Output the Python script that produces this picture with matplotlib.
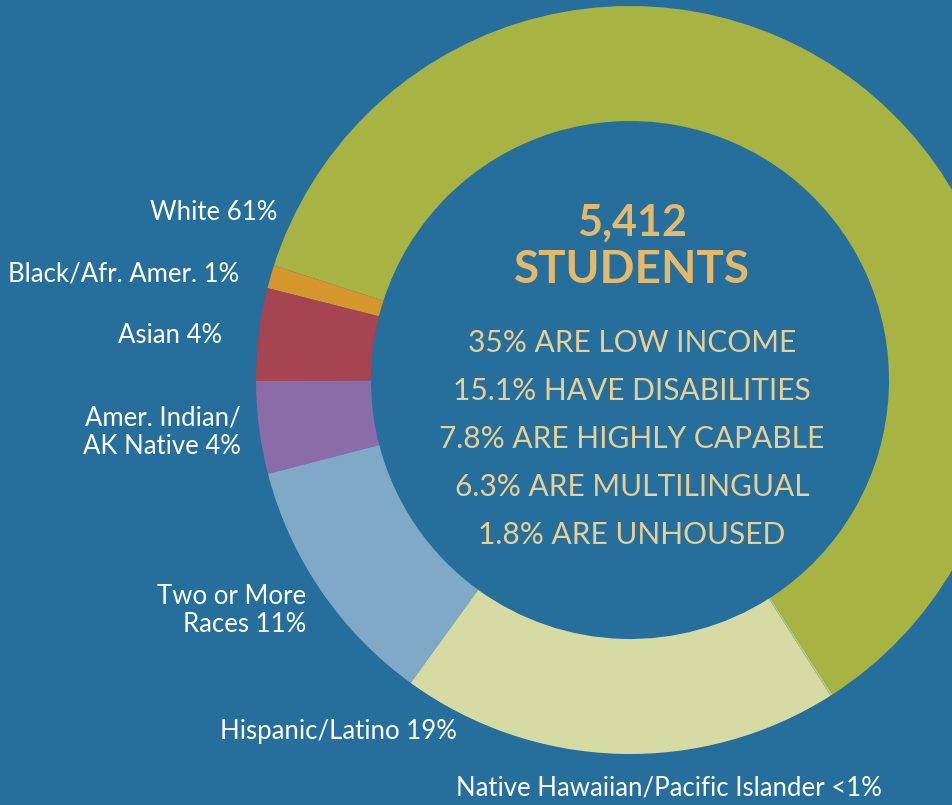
import matplotlib.pyplot as plt

# student demographics (percent)
groups = ["White 61%", "Black/Afr. Amer. 1%", "Asian 4%", "Amer. Indian/\nAK Native 4%",
          "Two or More\nRaces 11%", "Hispanic/Latino 19%", "Native Hawaiian/Pacific Islander <1%"]
shares = [61, 1, 4, 4, 11, 19, 0.1]
colors = ["#a7b342", "#d4962d", "#a64452", "#8a6ca8", "#80a9c7", "#d6dba4", "#bfc77a"]

headline = ["5,412", "STUDENTS"]
facts = ["35% ARE LOW INCOME", "15.1% HAVE DISABILITIES", "7.8% ARE HIGHLY CAPABLE",
         "6.3% ARE MULTILINGUAL", "1.8% ARE UNHOUSED"]

bg = "#266e9b"
W, H = 952, 805
fig = plt.figure(figsize=(W / 100, H / 100), dpi=100, facecolor=bg)
ax = fig.add_axes([0, 0, 1, 1])
ax.set_facecolor(bg)

cx, cy = 630, H - 380
R = 374
ax.pie(shares, colors=colors, startangle=-57.2, counterclock=True,
       radius=R, center=(cx, cy), frame=True,
       wedgeprops=dict(width=R - 259, linewidth=0))
ax.set_xlim(0, W)
ax.set_ylim(0, H)
ax.set_aspect("equal")
ax.axis("off")

# slice labels: (x, y from top, alignment)
lab_pos = [(277, 213, "right"), (239, 274, "right"), (222, 336, "right"),
           (241, 432, "right"), (306, 610, "right"), (457, 731, "right"),
           (456, 788, "left")]
for g, (x, y, ha) in zip(groups, lab_pos):
    ax.text(x, H - y, g, ha=ha, va="center", color="white", fontsize=18.5,
            family="Lato", linespacing=1.15, multialignment="right")

ax.text(632, H - 223, headline[0], ha="center", va="center", color="#e4b96a",
        fontsize=31, fontweight="bold", family="Lato")
ax.text(632, H - 270, headline[1], ha="center", va="center", color="#e4b96a",
        fontsize=33, fontweight="bold", family="Lato")
for i, f in enumerate(facts):
    ax.text(632, H - (343 + 48 * i), f, ha="center", va="center", color="#e8cf94",
            fontsize=21.5, family="Lato")

fig.savefig("out.png", dpi=100, facecolor=bg)
